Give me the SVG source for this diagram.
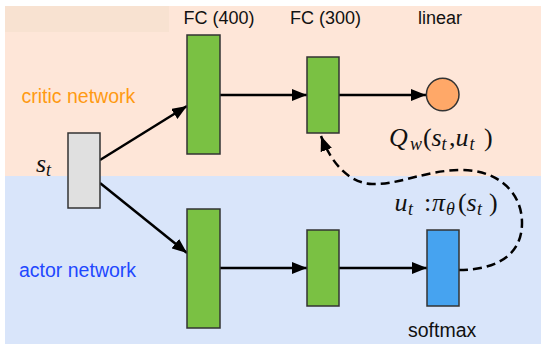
<svg xmlns="http://www.w3.org/2000/svg" width="541" height="344" viewBox="0 0 541 344">
<style>
.lab{font-family:"Liberation Sans",Arial,sans-serif;font-size:18px;fill:#111}
.net{font-family:"Liberation Sans",Arial,sans-serif;font-size:19.5px}
.m{font-family:"Liberation Serif","Times New Roman",serif;font-style:italic;fill:#111}
.up{font-style:normal}
.box{stroke:#333;stroke-width:1.5}
.fc{fill:#7AC143}
.edge{stroke:#000;stroke-width:2.5;fill:none}
</style>
<defs>
<marker id="ah" viewBox="0 0 15 12" refX="15" refY="6" markerWidth="15" markerHeight="12" markerUnits="userSpaceOnUse" orient="auto">
<path d="M0,0 L15,6 L0,12 z" fill="#000"/>
</marker>
</defs>
<g id="background">
<rect x="5" y="6" width="536" height="170" fill="#FEE6D8"/>
<rect x="5" y="6" width="164" height="26" fill="#F8E2D1"/>
<rect x="5" y="176" width="536" height="168" fill="#D9E5FA"/>
</g>
<g id="labels">
<text class="lab" x="183.5" y="24">FC (400)</text>
<text class="lab" x="290" y="24">FC (300)</text>
<text class="lab" x="418" y="24">linear</text>
<text class="net" x="21.5" y="103.3" fill="#FF9A12">critic network</text>
<text class="net" x="19" y="276.7" fill="#1F48FF">actor network</text>
<text class="net" x="408" y="337" fill="#111">softmax</text>
</g>
<g id="connectors">
<line class="edge" x1="100" y1="160" x2="187" y2="106" marker-end="url(#ah)"/>
<line class="edge" x1="100" y1="183" x2="187" y2="253" marker-end="url(#ah)"/>
<line class="edge" x1="220" y1="95" x2="307" y2="95" marker-end="url(#ah)"/>
<line class="edge" x1="339" y1="95" x2="426" y2="95" marker-end="url(#ah)"/>
<line class="edge" x1="220" y1="268" x2="307" y2="268" marker-end="url(#ah)"/>
<line class="edge" x1="339" y1="268" x2="427" y2="268" marker-end="url(#ah)"/>
<path class="edge" stroke-dasharray="9,5" d="M459,270 C485,270 522,262 522,223 C522,190 495,170 462,170 C425,170 400,185 372,184 C350,183 332,165 321,136" marker-end="url(#ah)"/>
</g>
<g id="state">
<rect class="box" x="68" y="133" width="32" height="75" fill="#E0E0E0"/>
<text class="m" font-size="26"><tspan x="36" y="171.5">s</tspan><tspan x="46" y="176" font-size="18">t</tspan></text>
</g>
<g id="critic-fc400"><rect class="box fc" x="187" y="35" width="33" height="119"/></g>
<g id="critic-fc300"><rect class="box fc" x="307" y="57" width="32" height="76"/></g>
<g id="critic-output">
<circle cx="442.7" cy="94.5" r="16.3" fill="#FFA868" stroke="#333" stroke-width="1.5"/>
<text class="m" font-size="26"><tspan x="389" y="146">Q</tspan><tspan x="410" y="150" font-size="18">w</tspan><tspan class="up" x="423" y="146">(</tspan><tspan x="431.5" y="146">s</tspan><tspan x="441.5" y="150" font-size="18">t</tspan><tspan class="up" x="449" y="146">,</tspan><tspan x="455.5" y="146">u</tspan><tspan x="469.5" y="150" font-size="18">t</tspan><tspan class="up" x="484" y="146">)</tspan></text>
</g>
<g id="actor-fc400"><rect class="box fc" x="187" y="209" width="33" height="119"/></g>
<g id="actor-fc300"><rect class="box fc" x="307" y="230" width="32" height="76"/></g>
<g id="actor-output">
<rect class="box" x="427" y="230" width="32" height="76" fill="#46A3F0"/>
<text class="m" font-size="26"><tspan x="394.5" y="211">u</tspan><tspan x="408" y="215" font-size="18">t</tspan><tspan class="up" x="424" y="211">:</tspan><tspan x="432" y="211">π</tspan><tspan x="446" y="215" font-size="18">θ</tspan><tspan class="up" x="458" y="211">(</tspan><tspan x="466.5" y="211">s</tspan><tspan x="477" y="215" font-size="18">t</tspan><tspan class="up" x="489" y="211">)</tspan></text>
</g>
</svg>
